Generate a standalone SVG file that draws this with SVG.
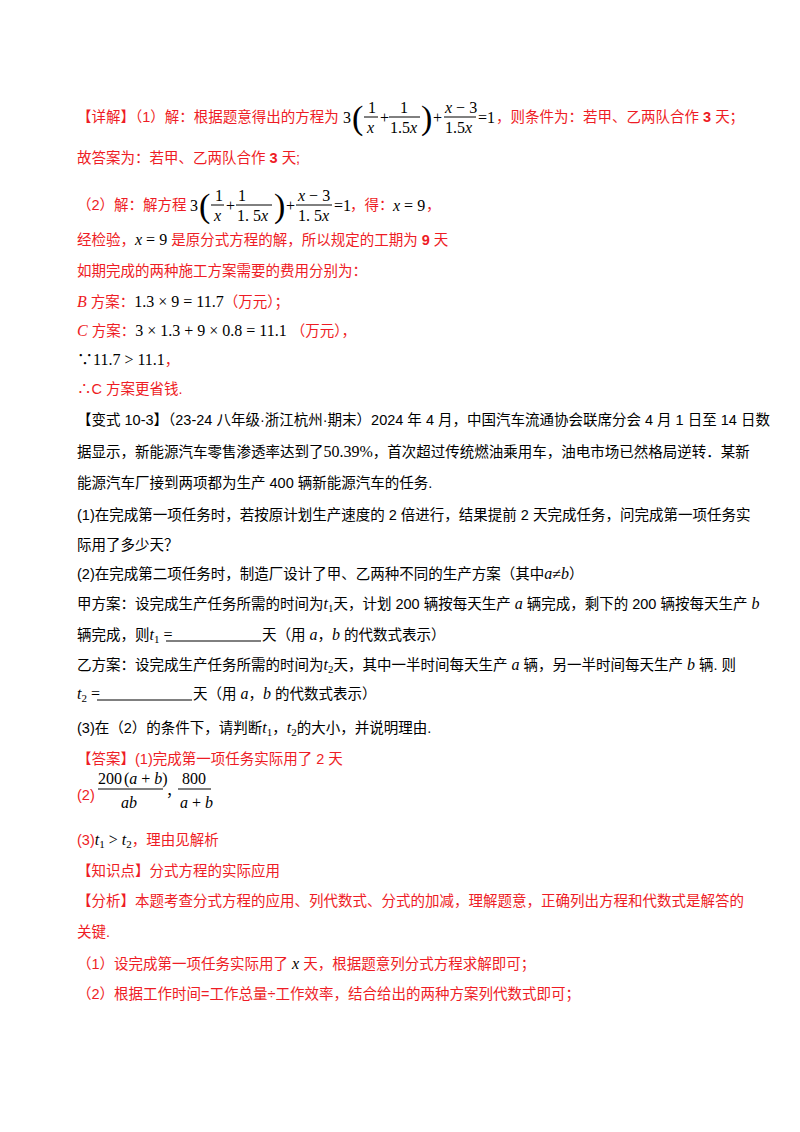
<svg xmlns="http://www.w3.org/2000/svg" width="800" height="1132" viewBox="0 0 800 1132">
<style>
text{font-family:"Liberation Sans","Noto Sans CJK SC",sans-serif;font-size:14.5px;fill:#000}
.r{fill:#ee1c25}
.m{font-family:"Liberation Serif","Noto Sans CJK SC",serif;font-size:16px}
.i{font-style:italic}
.s{font-size:11px}
.fl{stroke:#000;stroke-width:1}
.p{font-family:"Liberation Serif",serif;font-size:34px;fill:#000}
</style>
<rect width="800" height="1132" fill="#fff"/>
<g id="solution">
<text x="77" y="122" class="r">【详解】（1）解：根据题意得出的方程为</text>
<g transform="translate(-12,0)">
<text x="355" y="123" class="m">3</text>
<text x="364" y="129" class="p">(</text>
<text x="380" y="113" class="m">1</text><line class="fl" x1="376" y1="117" x2="390" y2="117"/><text x="379" y="133" class="m i">x</text>
<text x="392" y="123" class="m">+</text>
<text x="412" y="113" class="m">1</text><line class="fl" x1="401" y1="117" x2="432" y2="117"/><text x="402" y="133" class="m">1.5<tspan class="i">x</tspan></text>
<text x="433" y="129" class="p">)</text>
<text x="445" y="123" class="m">+</text>
<text x="457" y="113" class="m i">x<tspan font-style="normal"> − 3</tspan></text><line class="fl" x1="456" y1="117" x2="488" y2="117"/><text x="457" y="133" class="m">1.5<tspan class="i">x</tspan></text>
<text x="490" y="123" class="m">=1</text>
</g>
<text x="496" y="122" class="r">，则条件为：若甲、乙两队合作<tspan font-weight="bold"> 3 </tspan>天；</text>

<text x="77" y="163" class="r">故答案为：若甲、乙两队合作<tspan font-weight="bold"> 3 </tspan>天;</text>

<text x="77" y="210" class="r">（2）解：解方程</text>
<g transform="translate(16,0)">
<text x="174" y="211" class="m">3</text>
<text x="183" y="217" class="p">(</text>
<text x="199" y="201" class="m">1</text><line class="fl" x1="195" y1="205" x2="208" y2="205"/><text x="198" y="221" class="m i">x</text>
<text x="210" y="211" class="m">+</text>
<text x="222" y="201" class="m">1</text><line class="fl" x1="220" y1="205" x2="256" y2="205"/><text x="221" y="221" class="m">1. 5<tspan class="i">x</tspan></text>
<text x="258" y="217" class="p">)</text>
<text x="270" y="211" class="m">+</text>
<text x="282" y="201" class="m i">x<tspan font-style="normal"> − 3</tspan></text><line class="fl" x1="280" y1="205" x2="316" y2="205"/><text x="282" y="221" class="m">1. 5<tspan class="i">x</tspan></text>
<text x="318" y="211" class="m">=1</text>
<text x="334" y="210" class="r">，得：</text>
<text x="377" y="211" class="m"><tspan class="i">x</tspan> = 9</text>
<text x="410" y="210" class="r">，</text>
</g>

<text x="77" y="245" class="r">经检验，<tspan class="m i" fill="#000">x</tspan><tspan class="m" fill="#000"> = 9 </tspan>是原分式方程的解，所以规定的工期为<tspan font-weight="bold"> 9 </tspan>天</text>
<text x="77" y="276" class="r">如期完成的两种施工方案需要的费用分别为：</text>
<text x="77" y="307" class="r"><tspan class="m i" fill="#ee1c25">B</tspan> 方案：<tspan class="m" fill="#000">1.3 × 9 = 11.7</tspan>（万元）；</text>
<text x="77" y="336" class="r"><tspan class="m i" fill="#ee1c25">C</tspan> 方案：<tspan class="m" fill="#000">3 × 1.3 + 9 × 0.8 = 11.1</tspan> （万元），</text>
<text x="77" y="365" class="r"><tspan class="m" fill="#000">∵11.7 &gt; 11.1</tspan>，</text>
<text x="77" y="394" class="r">∴C 方案更省钱.</text>
</g>
<g id="problem">
<text x="77" y="425">【变式 10-3】（23-24 八年级·浙江杭州·期末）2024 年 4 月，中国汽车流通协会联席分会 4 月 1 日至 14 日数</text>
<text x="77" y="457">据显示，新能源汽车零售渗透率达到了<tspan class="m">50.39%</tspan>，首次超过传统燃油乘用车，油电市场已然格局逆转．某新</text>
<text x="77" y="488">能源汽车厂接到两项都为生产 400 辆新能源汽车的任务.</text>
<text x="77" y="520">(1)在完成第一项任务时，若按原计划生产速度的 2 倍进行，结果提前 2 天完成任务，问完成第一项任务实</text>
<text x="77" y="550">际用了多少天？</text>
<text x="77" y="579">(2)在完成第二项任务时，制造厂设计了甲、乙两种不同的生产方案（其中<tspan class="m i">a</tspan><tspan class="m">≠</tspan><tspan class="m i">b</tspan>）</text>
<text x="77" y="609">甲方案：设完成生产任务所需的时间为<tspan class="m i">t</tspan><tspan class="m s" dy="3">1</tspan><tspan dy="-3">天，计划 200 辆按每天生产</tspan><tspan class="m i"> a </tspan>辆完成，剩下的 200 辆按每天生产<tspan class="m i"> b</tspan></text>
<text x="77" y="640">辆完成，则<tspan class="m i">t</tspan><tspan class="m s" dy="3">1</tspan><tspan dy="-3" class="m"> =</tspan></text>
<line class="fl" x1="166" y1="641" x2="261" y2="641"/>
<text x="262" y="640">天（用<tspan class="m i"> a</tspan>，<tspan class="m i">b</tspan> 的代数式表示）</text>
<text x="77" y="670">乙方案：设完成生产任务所需的时间为<tspan class="m i">t</tspan><tspan class="m s" dy="3">2</tspan><tspan dy="-3">天，其中一半时间每天生产</tspan><tspan class="m i"> a </tspan>辆，另一半时间每天生产<tspan class="m i"> b </tspan>辆. 则</text>
<text x="77" y="699" class="m"><tspan class="i">t</tspan><tspan class="s" dy="3">2</tspan><tspan dy="-3"> =</tspan></text>
<line class="fl" x1="97" y1="700" x2="192" y2="700"/>
<text x="193" y="699">天（用<tspan class="m i"> a</tspan>，<tspan class="m i">b</tspan> 的代数式表示）</text>
<text x="77" y="733">(3)在（2）的条件下，请判断<tspan class="m i">t</tspan><tspan class="m s" dy="3">1</tspan><tspan dy="-3">，</tspan><tspan class="m i">t</tspan><tspan class="m s" dy="3">2</tspan><tspan dy="-3">的大小，并说明理由.</tspan></text>
</g>
<g id="answer">
<text x="77" y="764" class="r">【答案】(1)完成第一项任务实际用了 2 天</text>
<text x="77" y="800" class="r">(2)</text>
<g transform="translate(8,0)">
<text x="90" y="784" class="m">200<tspan dx="2">(</tspan><tspan class="i">a</tspan> + <tspan class="i">b</tspan>)</text><line class="fl" x1="90" y1="789" x2="155" y2="789"/><text x="113" y="808" class="m i">ab</text>
<text x="158" y="796">，</text>
<text x="174" y="784" class="m">800</text><line class="fl" x1="170" y1="789" x2="203" y2="789"/><text x="172" y="808" class="m"><tspan class="i">a</tspan> + <tspan class="i">b</tspan></text>
</g>
<text x="77" y="845" class="r">(3)<tspan class="m i" fill="#000">t</tspan><tspan class="m s" fill="#000" dy="3">1</tspan><tspan class="m" fill="#000" dy="-3"> &gt; </tspan><tspan class="m i" fill="#000">t</tspan><tspan class="m s" fill="#000" dy="3">2</tspan><tspan dy="-3">，理由见解析</tspan></text>
<text x="77" y="876" class="r">【知识点】分式方程的实际应用</text>
<text x="77" y="906" class="r">【分析】本题考查分式方程的应用、列代数式、分式的加减，理解题意，正确列出方程和代数式是解答的</text>
<text x="77" y="937" class="r">关键.</text>
<text x="77" y="969" class="r">（1）设完成第一项任务实际用了<tspan class="m i" fill="#000"> x </tspan>天，根据题意列分式方程求解即可；</text>
<text x="77" y="999" class="r">（2）根据工作时间=工作总量÷工作效率，结合给出的两种方案列代数式即可；</text>
</g>
</svg>
